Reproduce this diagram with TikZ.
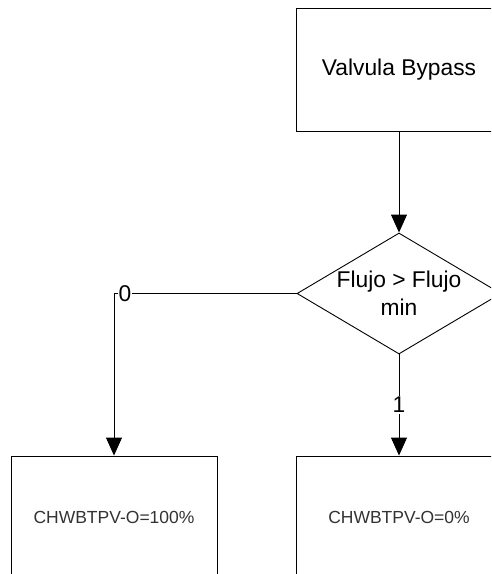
\documentclass[tikz,border=0pt]{standalone}
\usepackage{fontspec}
\setmainfont{Liberation Sans}
\usetikzlibrary{shapes.geometric,arrows.meta}
\begin{document}
\begin{tikzpicture}[x=1pt,y=-1pt,
  box/.style={draw,line width=0.9pt,minimum width=206pt,minimum height=123pt,inner sep=0pt,font=\fontsize{22.8}{26}\selectfont},
  smallbox/.style={box,font=\fontsize{17.5}{20}\selectfont,text=black!80},
  dec/.style={draw,diamond,line width=0.9pt,minimum width=204pt,minimum height=121pt,inner sep=0pt},
  dectext/.style={align=center,inner sep=0pt,font=\fontsize{22.8}{28}\selectfont},
  conn/.style={line width=0.9pt,-{Triangle[width=16pt,length=18pt]}},
  lab/.style={fill=white,inner sep=1pt,font=\fontsize{22.8}{26}\selectfont}]
\useasboundingbox (0,0) rectangle (491,574);
\clip (0,0) rectangle (491,574);
\fill[white] (0,0) rectangle (491,574);
\node[box] (valve) at (399,69.5) {Valvula Bypass};
\node[dec] (cond) at (399,293.5) {};
\node[dectext] (condtext) at (399,293.5) {Flujo > Flujo\\min};
\node[smallbox] (full) at (114,517.5) {CHWBTPV-O=100\%};
\node[smallbox] (zero) at (399,517.5) {CHWBTPV-O=0\%};
\draw[conn] (valve) -- (cond);
\draw[conn] (cond.west) -| node[lab,pos=0.47] {0} (full.north);
\draw[conn] (cond.south) -- node[lab,pos=0.5] {1} (zero.north);
\end{tikzpicture}
\end{document}
